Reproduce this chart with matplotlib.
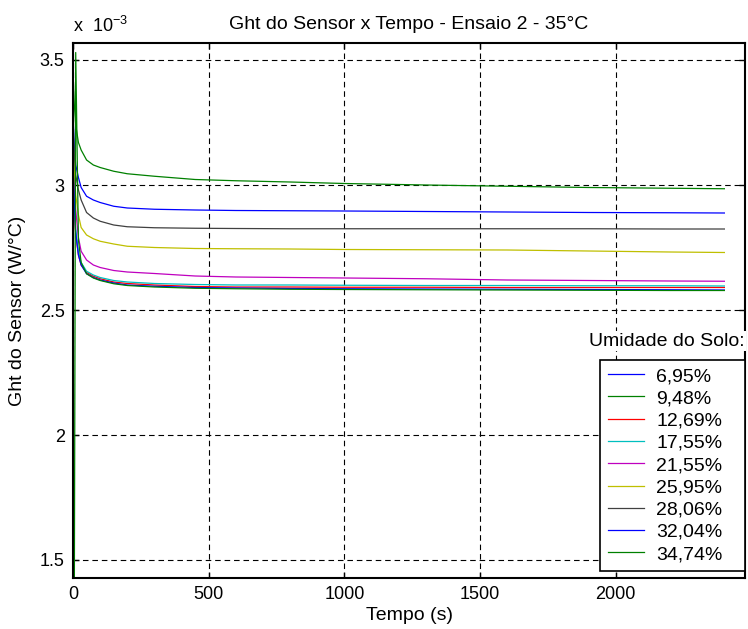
import matplotlib
matplotlib.use("Agg")
import matplotlib.pyplot as plt
from matplotlib.ticker import FuncFormatter

plt.rcParams['font.family'] = ['Liberation Sans', 'DejaVu Sans']

# tempo (s) e Ght (x 1e-3 W/°C)
tempo = [0, 5, 10, 20, 30, 50, 75, 100, 150, 200, 300, 450, 600, 800,
         1000, 1300, 1600, 1900, 2200, 2400]

u695 = [3.28, 3.15, 3.08, 3.03, 2.99, 2.955, 2.94, 2.93, 2.915, 2.908, 2.903,
        2.900, 2.898, 2.897, 2.896, 2.894, 2.892, 2.890, 2.889, 2.888]
u948 = [3.45, 3.32, 3.24, 3.17, 3.14, 3.10, 3.08, 3.07, 3.055, 3.045, 3.035,
        3.022, 3.017, 3.012, 3.006, 3.000, 2.995, 2.990, 2.987, 2.985]
u1269 = [3.05, 2.90, 2.80, 2.72, 2.68, 2.65, 2.635, 2.625, 2.612, 2.606, 2.600,
         2.594, 2.592, 2.592, 2.591, 2.591, 2.590, 2.590, 2.590, 2.590]
u1755 = [3.10, 2.93, 2.82, 2.73, 2.69, 2.655, 2.64, 2.63, 2.618, 2.612, 2.606,
         2.602, 2.600, 2.600, 2.599, 2.598, 2.598, 2.597, 2.597, 2.596]
u2155 = [3.15, 3.00, 2.90, 2.79, 2.735, 2.70, 2.68, 2.67, 2.658, 2.652, 2.646,
         2.636, 2.632, 2.630, 2.628, 2.625, 2.620, 2.618, 2.616, 2.615]
u2595 = [3.20, 3.05, 2.96, 2.88, 2.83, 2.80, 2.785, 2.775, 2.764, 2.755, 2.750,
         2.746, 2.745, 2.744, 2.742, 2.741, 2.740, 2.736, 2.732, 2.730]
u2806 = [3.25, 3.12, 3.04, 2.98, 2.94, 2.89, 2.868, 2.855, 2.84, 2.833, 2.829,
         2.827, 2.826, 2.825, 2.825, 2.825, 2.825, 2.825, 2.824, 2.824]
u3204 = [3.10, 2.92, 2.81, 2.72, 2.68, 2.645, 2.63, 2.62, 2.608, 2.600, 2.595,
         2.590, 2.588, 2.586, 2.585, 2.584, 2.583, 2.582, 2.581, 2.580]
u3474 = [1.40, 1.40, 3.53, 2.78, 2.69, 2.645, 2.628, 2.618, 2.605, 2.598, 2.592,
         2.587, 2.585, 2.583, 2.582, 2.581, 2.580, 2.579, 2.578, 2.578]

series = [u695, u948, u1269, u1755, u2155, u2595, u2806, u3204, u3474]
rotulos = ['6,95%', '9,48%', '12,69%', '17,55%', '21,55%', '25,95%',
           '28,06%', '32,04%', '34,74%']
cores = ['#0000ff', '#008000', '#ff0000', '#00bfbf', '#bf00bf', '#bfbf00',
         '#404040', '#0000ff', '#008000']

fig = plt.figure(figsize=(7.48, 6.29), dpi=100)
ax = fig.add_axes([73 / 748, 1 - 578 / 629, 672 / 748, 535 / 629])

for y, lab, c in zip(series, rotulos, cores):
    ax.plot(tempo, y, color=c, lw=0.9, label=lab)

ax.set_xlim(0, 2476)
ax.set_ylim(1.428, 3.568)
ax.set_xticks([0, 500, 1000, 1500, 2000])
ax.set_yticks([1.5, 2, 2.5, 3, 3.5])
ax.yaxis.set_major_formatter(FuncFormatter(lambda v, p: '%g' % v))
ax.tick_params(direction='in', length=4, width=1, top=True, right=True,
               labelsize=13, pad=6)
for s in ax.spines.values():
    s.set_linewidth(1.5)
ax.grid(True, color='black', linestyle=(0, (5, 3.5)), linewidth=0.8)

ax.set_title('Ght do Sensor x Tempo - Ensaio 2 - 35°C', fontsize=14, pad=10)
ax.set_xlabel('Tempo (s)', fontsize=14, labelpad=3)
ax.set_ylabel('Ght do Sensor (W/°C)', fontsize=14, labelpad=10)
fig.text(73 / 748, 1 - 32 / 629, 'x  10$^{\\mathregular{-3}}$', fontsize=13,
         va='baseline')

leg = ax.legend(loc='lower left',
                bbox_to_anchor=(600 / 748, 1 - 571 / 629, 145 / 748, 0.2),
                bbox_transform=fig.transFigure, mode='expand', borderaxespad=0,
                fontsize=14, handlelength=1.85, handletextpad=0.65,
                labelspacing=0.24, borderpad=0.4,
                fancybox=False, framealpha=1, edgecolor='black')
leg.get_frame().set_linewidth(1.2)
fig.text(667 / 748, 1 - 341 / 629, 'Umidade do Solo:', fontsize=14,
         ha='center', va='center',
         bbox=dict(facecolor='white', edgecolor='none', pad=1))

fig.savefig('out.png', dpi=100)
